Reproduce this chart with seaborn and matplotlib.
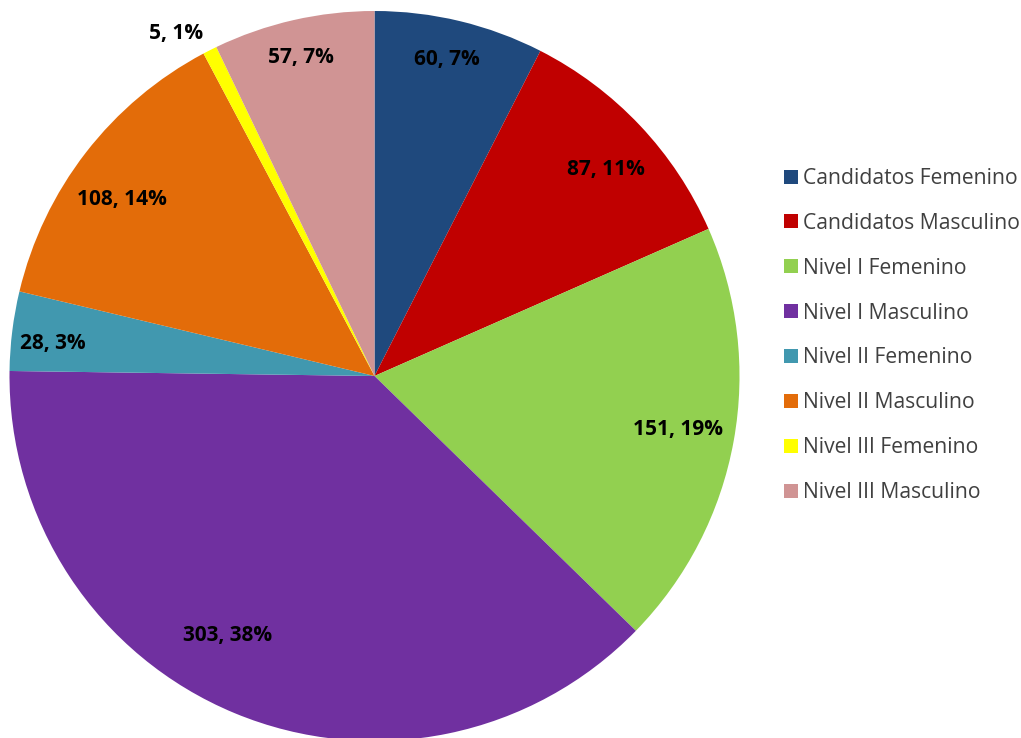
import matplotlib
matplotlib.use("Agg")
import matplotlib.pyplot as plt
from matplotlib.lines import Line2D
import seaborn as sns

categories = ["Candidatos Femenino", "Candidatos Masculino", "Nivel I Femenino", "Nivel I Masculino",
              "Nivel II Femenino", "Nivel II Masculino", "Nivel III Femenino", "Nivel III Masculino"]
values = [60, 87, 151, 303, 28, 108, 5, 57]
labels = ["60, 7%", "87, 11%", "151, 19%", "303, 38%", "28, 3%", "108, 14%", "5, 1%", "57, 7%"]
colors = ["#1F497D", "#C00000", "#92D050", "#7030A0", "#4198AF", "#E36C09", "#FFFF00", "#D09494"]

sns.set_theme(style="white")
plt.rcParams['font.family'] = ['Open Sans', 'DejaVu Sans']

fig = plt.figure(figsize=(10.21, 7.38), dpi=100, facecolor="white")
ax = fig.add_axes([0, 0, 1, 1])
ax.axis("off")

# y axis runs downward, so the direction is mirrored to give a clockwise pie from 12 o'clock
wedges, _ = ax.pie(values, colors=colors, startangle=-90, counterclock=True,
                   center=(374.5, 376), radius=365, frame=False,
                   wedgeprops=dict(linewidth=0))
ax.set_xlim(0, 1021)
ax.set_ylim(738, 0)
ax.set_aspect("equal")

label_pos = [(447, 59), (606, 169), (678, 429), (228, 636), (53, 344), (122, 200), (176, 34), (301, 57)]
for (x, y), t in zip(label_pos, labels):
    ax.text(x, y, t, ha="center", va="center", fontsize=15, fontweight="bold", color="black")

handles = [Line2D([], [], marker="s", linestyle="", color=c, markersize=9.4, markeredgewidth=0) for c in colors]
fig.legend(handles, categories, loc="upper left", bbox_to_anchor=(785 / 1021, 1 - 168 / 738),
           frameon=False, fontsize=15.2, labelspacing=1.13, handlelength=0.6, handletextpad=0.25,
           borderpad=0, borderaxespad=0, labelcolor="#404040")
fig.savefig("out.png", dpi=100)
